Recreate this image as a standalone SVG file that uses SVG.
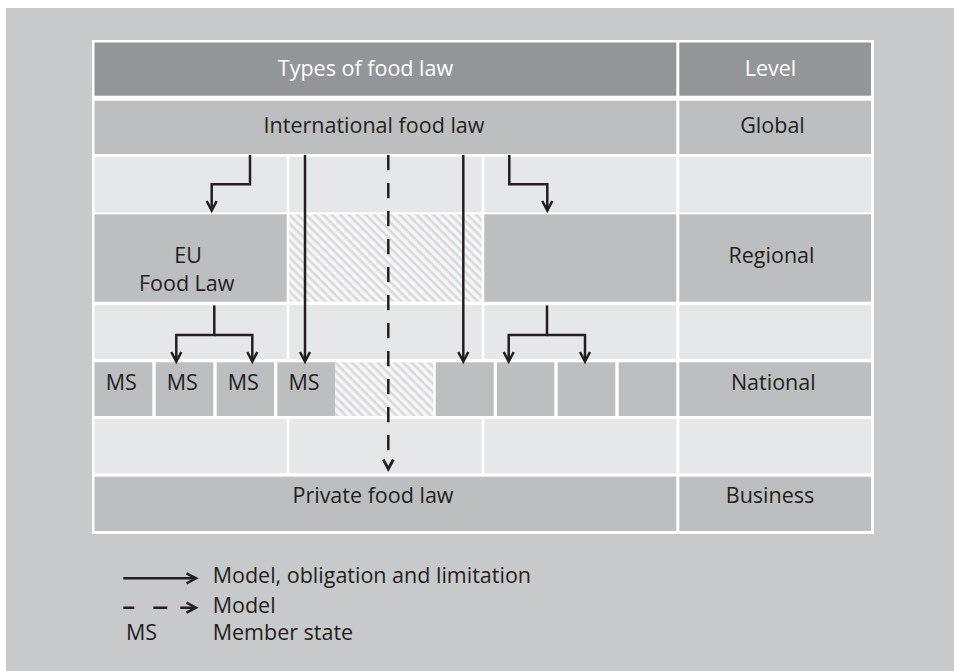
<svg xmlns="http://www.w3.org/2000/svg" width="954" height="671" viewBox="0 0 954 671">
<defs>
<style>
.t{font-family:"Open Sans","Noto Sans",sans-serif;font-size:21.5px;fill:#231f20;text-anchor:middle}
.w{fill:#ffffff}
.s{text-anchor:start}
.hd{fill:#939598}
.md{fill:#bcbec0}
.lt{fill:#e6e7e8}
.ln{fill:none;stroke:#231f20;stroke-width:2.5}
.ds{stroke-dasharray:15.3 12.7}
</style>
<pattern id="hatch" width="6" height="6" patternUnits="userSpaceOnUse" patternTransform="rotate(45)">
<rect width="6" height="6" fill="#f6f6f7"/>
<rect width="6" height="2.6" fill="#d8d9db"/>
</pattern>
<marker id="ah" markerUnits="userSpaceOnUse" markerWidth="12" markerHeight="12" refX="0" refY="0" orient="auto" overflow="visible">
<path d="M-9.5,-5 L0,0 L-9.5,5" fill="none" stroke="#231f20" stroke-width="2.5"/>
</marker>
<marker id="ahg" markerUnits="userSpaceOnUse" markerWidth="12" markerHeight="12" refX="-17" refY="0" orient="auto" overflow="visible">
<path d="M-9.5,-5 L0,0 L-9.5,5" fill="none" stroke="#231f20" stroke-width="2.8"/>
</marker>
</defs>
<rect width="954" height="671" fill="#ffffff"/>
<rect x="6" y="8" width="948" height="663" fill="#c8c9cb"/>
<rect x="92" y="40" width="782" height="494" fill="#ffffff"/>

<g id="header">
<rect class="hd" x="94.5" y="42.5" width="581.8" height="53.2"/>
<text class="t w" x="365.5" y="76">Types of food law</text>
</g>
<g id="header-level">
<rect class="hd" x="679.3" y="42.5" width="191.7" height="53.2"/>
<text class="t w" x="770.5" y="75.5">Level</text>
</g>

<g id="international">
<rect class="md" x="94.5" y="100.7" width="581.8" height="53.3"/>
<text class="t" x="374" y="133">International food law</text>
</g>
<g id="global">
<rect class="md" x="679.3" y="100.7" width="191.7" height="53.3"/>
<text class="t" x="772.5" y="133">Global</text>
</g>

<g id="gap-rows">
<rect class="lt" x="94.5" y="156.7" width="192.2" height="55.6"/>
<rect class="lt" x="289.3" y="156.7" width="192.4" height="55.6"/>
<rect class="lt" x="484.3" y="156.7" width="192" height="55.6"/>
<rect class="lt" x="679.3" y="156.7" width="191.7" height="55.6"/>
<rect class="lt" x="94.5" y="305" width="192.2" height="54"/>
<rect class="lt" x="289.3" y="305" width="192.4" height="54"/>
<rect class="lt" x="484.3" y="305" width="192" height="54"/>
<rect class="lt" x="679.3" y="305" width="191.7" height="54"/>
<rect class="lt" x="94.5" y="419" width="192.2" height="54.3"/>
<rect class="lt" x="289.3" y="419" width="192.4" height="54.3"/>
<rect class="lt" x="484.3" y="419" width="192" height="54.3"/>
<rect class="lt" x="679.3" y="419" width="191.7" height="54.3"/>
</g>

<g id="eu-food-law">
<rect class="md" x="94.5" y="214.3" width="192.2" height="87.4"/>
<text class="t" x="188" y="263.3">EU</text>
<text class="t" x="186.7" y="290.7">Food Law</text>
</g>
<g id="regional-hatch">
<rect x="289.3" y="214.3" width="192.4" height="87.4" fill="url(#hatch)"/>
</g>
<g id="other-regional">
<rect class="md" x="484.3" y="214.3" width="192" height="87.4"/>
</g>
<g id="regional">
<rect class="md" x="679.3" y="214.3" width="191.7" height="87.4"/>
<text class="t" x="771.5" y="263.3">Regional</text>
</g>

<g id="ms1"><rect class="md" x="94.5" y="362.3" width="57.8" height="53.7"/><text class="t" x="121.3" y="390">MS</text></g>
<g id="ms2"><rect class="md" x="155.7" y="362.3" width="57.6" height="53.7"/><text class="t" x="182.3" y="390">MS</text></g>
<g id="ms3"><rect class="md" x="216.7" y="362.3" width="57.3" height="53.7"/><text class="t" x="243.3" y="390">MS</text></g>
<g id="ms4"><rect class="md" x="277.3" y="362.3" width="58" height="53.7"/><text class="t" x="304" y="390">MS</text></g>
<g id="national-hatch"><rect x="335.3" y="362.3" width="98" height="53.7" fill="url(#hatch)"/></g>
<g id="state5"><rect class="md" x="435.7" y="362.3" width="58" height="53.7"/></g>
<g id="state6"><rect class="md" x="497" y="362.3" width="57.3" height="53.7"/></g>
<g id="state7"><rect class="md" x="557.7" y="362.3" width="57.6" height="53.7"/></g>
<g id="state8"><rect class="md" x="618.7" y="362.3" width="57.6" height="53.7"/></g>
<g id="national">
<rect class="md" x="679.3" y="362.3" width="191.7" height="53.7"/>
<text class="t" x="773.3" y="390">National</text>
</g>

<g id="private">
<rect class="md" x="94.5" y="476.7" width="581.8" height="54.3"/>
<text class="t" x="373" y="503.3">Private food law</text>
</g>
<g id="business">
<rect class="md" x="679.3" y="476.7" width="191.7" height="54.3"/>
<text class="t" x="770" y="503.3">Business</text>
</g>

<g id="connectors">
<path class="ln" d="M250,155 V184.3 H211.7 V210.5" marker-end="url(#ah)"/>
<path class="ln" d="M509.3,155 V184.3 H547.3 V210.5" marker-end="url(#ah)"/>
<path class="ln" d="M305,155 V361.5" marker-end="url(#ah)"/>
<path class="ln" d="M463.3,155 V361.5" marker-end="url(#ah)"/>
<path class="ln ds" d="M388.3,155 V452" marker-end="url(#ahg)"/>
<path class="ln" d="M214.3,305.5 V335 H176.3 V361.5" marker-end="url(#ah)"/>
<path class="ln" d="M214.3,335 H252.3 V361.5" marker-end="url(#ah)"/>
<path class="ln" d="M547,305.5 V335 H508.7 V361.5" marker-end="url(#ah)"/>
<path class="ln" d="M547,335 H585 V361.5" marker-end="url(#ah)"/>
</g>

<g id="legend">
<path class="ln" d="M123.3,578.3 H196" marker-end="url(#ah)"/>
<path class="ln" d="M123.3,607.7 H196" style="stroke-dasharray:11 19 14 13 30" marker-end="url(#ah)"/>
<text class="t s" x="212.7" y="583.3">Model, obligation and limitation</text>
<text class="t s" x="212.7" y="612.7">Model</text>
<text class="t s" x="126" y="640">MS</text>
<text class="t s" x="212.7" y="640">Member state</text>
</g>
</svg>
